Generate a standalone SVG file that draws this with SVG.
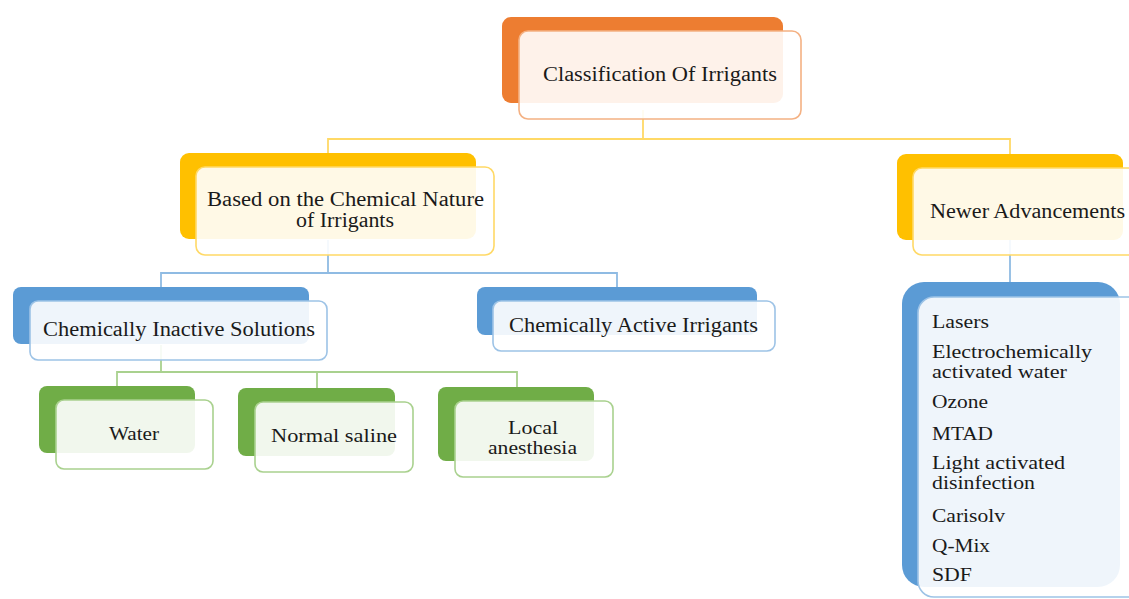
<svg xmlns="http://www.w3.org/2000/svg" width="1129" height="599" viewBox="0 0 1129 599">
<style>
text{font-family:"Liberation Serif","Times New Roman",serif;fill:#1a1a1a}
.t19{font-size:20px}.t18{font-size:19px}.t17{font-size:18px}
.front{fill:#fff;fill-opacity:0.9;stroke-width:1.6}
.bo{fill:#ED7D31}.fo{stroke:#F4B183}
.by{fill:#FFC000}.fy{stroke:#FFD966}
.bb{fill:#5B9BD5}.fb{stroke:#9DC3E6}
.bg{fill:#70AD47}.fg{stroke:#A9D18E}
.c{fill:none;stroke-width:1.8}
</style>
<rect width="1129" height="599" fill="#fff"/>
<g id="connectors">
<path class="c" stroke="#FFD966" d="M643 110V139H328V153M643 139H1010V155"/>
<path class="c" stroke="#8FBBE3" d="M328 240V273H161V287M328 273H617V287"/>
<path class="c" stroke="#8FBBE3" d="M1010 240V283"/>
<path class="c" stroke="#A9D18E" d="M161 345V372H117V386M161 372H317V388M317 372H517V387"/>
</g>
<g id="root">
<rect class="bo" x="502" y="17" width="281" height="86" rx="9"/>
<rect class="front fo" x="519" y="31" width="282" height="88" rx="9"/>
<text class="t19" x="543" y="81" textLength="234" lengthAdjust="spacingAndGlyphs">Classification  Of Irrigants</text>
</g>
<g id="chemical-nature">
<rect class="by" x="180" y="153" width="296" height="86" rx="9"/>
<rect class="front fy" x="196" y="167" width="298" height="88" rx="9"/>
<text class="t19" x="207" y="206" textLength="277" lengthAdjust="spacingAndGlyphs">Based on the Chemical  Nature</text>
<text class="t19" x="296" y="227" textLength="98" lengthAdjust="spacingAndGlyphs">of Irrigants</text>
</g>
<g id="newer">
<rect class="by" x="897" y="154" width="226" height="86" rx="9"/>
<rect class="front fy" x="913" y="168" width="240" height="87" rx="9"/>
<text class="t19" x="930" y="218" textLength="195" lengthAdjust="spacingAndGlyphs">Newer Advancements</text>
</g>
<g id="inactive">
<rect class="bb" x="13" y="287" width="296" height="57" rx="8"/>
<rect class="front fb" x="30" y="301" width="297" height="59" rx="8"/>
<text class="t19" x="43" y="336" textLength="272" lengthAdjust="spacingAndGlyphs">Chemically  Inactive  Solutions</text>
</g>
<g id="active">
<rect class="bb" x="477" y="287" width="280" height="48" rx="8"/>
<rect class="front fb" x="493" y="301" width="282" height="50" rx="8"/>
<text class="t19" x="509" y="332" textLength="249" lengthAdjust="spacingAndGlyphs">Chemically  Active  Irrigants</text>
</g>
<g id="water">
<rect class="bg" x="39" y="386" width="156" height="67" rx="8"/>
<rect class="front fg" x="56" y="400" width="157" height="69" rx="8"/>
<text class="t18" x="109" y="440" textLength="50" lengthAdjust="spacingAndGlyphs">Water</text>
</g>
<g id="saline">
<rect class="bg" x="238" y="388" width="157" height="68" rx="8"/>
<rect class="front fg" x="255" y="402" width="158" height="70" rx="8"/>
<text class="t18" x="271" y="442" textLength="126" lengthAdjust="spacingAndGlyphs">Normal saline</text>
</g>
<g id="anesthesia">
<rect class="bg" x="438" y="387" width="156" height="74" rx="8"/>
<rect class="front fg" x="455" y="401" width="158" height="76" rx="8"/>
<text class="t18" x="508" y="434" textLength="50" lengthAdjust="spacingAndGlyphs">Local</text>
<text class="t18" x="488" y="454" textLength="89" lengthAdjust="spacingAndGlyphs">anesthesia</text>
</g>
<g id="advancements-list">
<rect class="bb" x="902" y="282" width="218" height="305" rx="22"/>
<rect class="front fb" x="918" y="297" width="240" height="300" rx="16"/>
<text class="t17" x="932" y="328" textLength="57" lengthAdjust="spacingAndGlyphs">Lasers</text>
<text class="t17" x="932" y="358" textLength="160" lengthAdjust="spacingAndGlyphs">Electrochemically</text>
<text class="t17" x="932" y="378" textLength="135" lengthAdjust="spacingAndGlyphs">activated  water</text>
<text class="t17" x="932" y="408" textLength="56" lengthAdjust="spacingAndGlyphs">Ozone</text>
<text class="t17" x="932" y="440" textLength="61" lengthAdjust="spacingAndGlyphs">MTAD</text>
<text class="t17" x="932" y="469" textLength="133" lengthAdjust="spacingAndGlyphs">Light activated</text>
<text class="t17" x="932" y="489" textLength="103" lengthAdjust="spacingAndGlyphs">disinfection</text>
<text class="t17" x="932" y="522" textLength="73" lengthAdjust="spacingAndGlyphs">Carisolv</text>
<text class="t17" x="932" y="552" textLength="58" lengthAdjust="spacingAndGlyphs">Q-Mix</text>
<text class="t17" x="932" y="581" textLength="40" lengthAdjust="spacingAndGlyphs">SDF</text>
</g>
</svg>
